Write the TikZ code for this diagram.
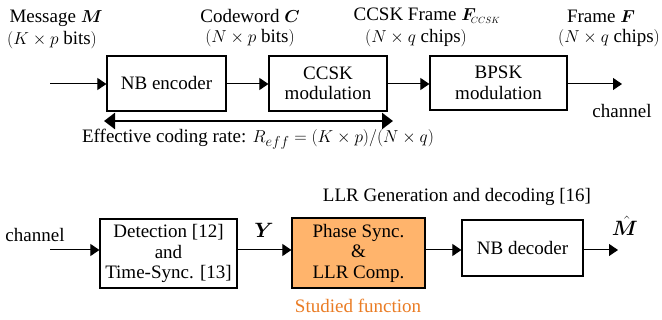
\documentclass[tikz,border=0pt]{standalone}
\usepackage{amsmath,bm}
\usepackage{fontspec}
\setmainfont{Liberation Serif}
\usetikzlibrary{arrows.meta}
\definecolor{studfill}{RGB}{255,180,108}
\definecolor{studtext}{RGB}{234,124,36}
\tikzset{
  blk/.style={draw=black, line width=1.2pt, align=center, inner sep=0pt},
  lbl/.style={align=center, inner sep=0pt},
  big/.style={font=\fontsize{22}{24}\selectfont},
  conn/.style={line width=1pt, -{Triangle[length=9pt,width=12pt]}},
  rate/.style={line width=2.6pt, {Triangle[length=11pt,width=16pt]}-{Triangle[length=11pt,width=16pt]}, shorten <=-1pt, shorten >=-1pt}
}
\begin{document}
\begin{tikzpicture}[x=1pt,y=-1pt, every node/.style={font=\fontsize{19}{20.5}\selectfont}]
\useasboundingbox (0,0) rectangle (662,320);
% top row
\node[blk, minimum width=119pt, minimum height=55pt] (enc) at (166.5,83.5) {NB encoder};
\node[blk, minimum width=118pt, minimum height=55pt] (ccsk) at (328,83.5) {CCSK\\modulation};
\node[blk, minimum width=137pt, minimum height=54pt] (bpsk) at (498.5,83) {BPSK\\modulation};
\coordinate (tin) at (50,84);
\coordinate (tout) at (622,84);
\draw[conn] (tin) -- (tin -| enc.west);
\draw[conn] (enc.east |- tin) -- (ccsk.west |- tin);
\draw[conn] (ccsk.east |- tin) -- (bpsk.west |- tin);
\draw[conn] (bpsk.east |- tin) -- (tout);
\node[lbl] (chout) at (622,111) {channel};
\node[lbl] (msg) at (56,18) {Message $\bm{M}$};
\node[lbl] (msgn) at (52,40) {$(K\times p\ \mathrm{bits})$};
\node[lbl] (cw) at (250,16) {Codeword $\bm{C}$};
\node[lbl] (cwn) at (250,38) {$(N\times p\ \mathrm{bits})$};
\node[lbl] (cf) at (427,16) {CCSK Frame $\bm{F}_{\!\scriptscriptstyle CCSK}$};
\node[lbl] (cfn) at (416,38) {$(N\times q\ \mathrm{chips})$};
\node[lbl] (fr) at (601,16) {Frame $\bm{F}$};
\node[lbl] (frn) at (609,38) {$(N\times q\ \mathrm{chips})$};
\coordinate (rl) at (105,121);
\coordinate (rr) at (392,121);
\draw[rate] (rl) -- (rr);
\node[lbl] (eff) at (258,139) {Effective coding rate: $R_{eff}=(K\times p)/(N\times q)$};
% bottom row
\node[blk, minimum width=137pt, minimum height=69pt] (det) at (168.5,253.5) {Detection [12]\\and\\Time-Sync. [13]};
\node[blk, fill=studfill, minimum width=133pt, minimum height=70pt] (ph) at (358.5,253) {Phase Sync.\\\&\\LLR Comp.};
\node[blk, minimum width=121pt, minimum height=56pt] (dec) at (522.5,248) {NB decoder};
\coordinate (bin) at (50,250);
\coordinate (bout) at (618,250);
\draw[conn] (bin) -- (bin -| det.west);
\draw[conn] (det.east |- bin) -- (ph.west |- bin);
\draw[conn] (ph.east |- bin) -- (dec.west |- bin);
\draw[conn] (dec.east |- bin) -- (bout);
\node[lbl] (chin) at (35,235) {channel};
\node[lbl, big] (y) at (264,230) {$\bm{Y}$};
\node[lbl, big] (mh) at (625,226) {$\hat{\bm{M}}$};
\node[lbl, text=studtext] (stud) at (358,306) {Studied function};
\node[lbl] (llr) at (457,197) {LLR Generation and decoding [16]};
\end{tikzpicture}
\end{document}
